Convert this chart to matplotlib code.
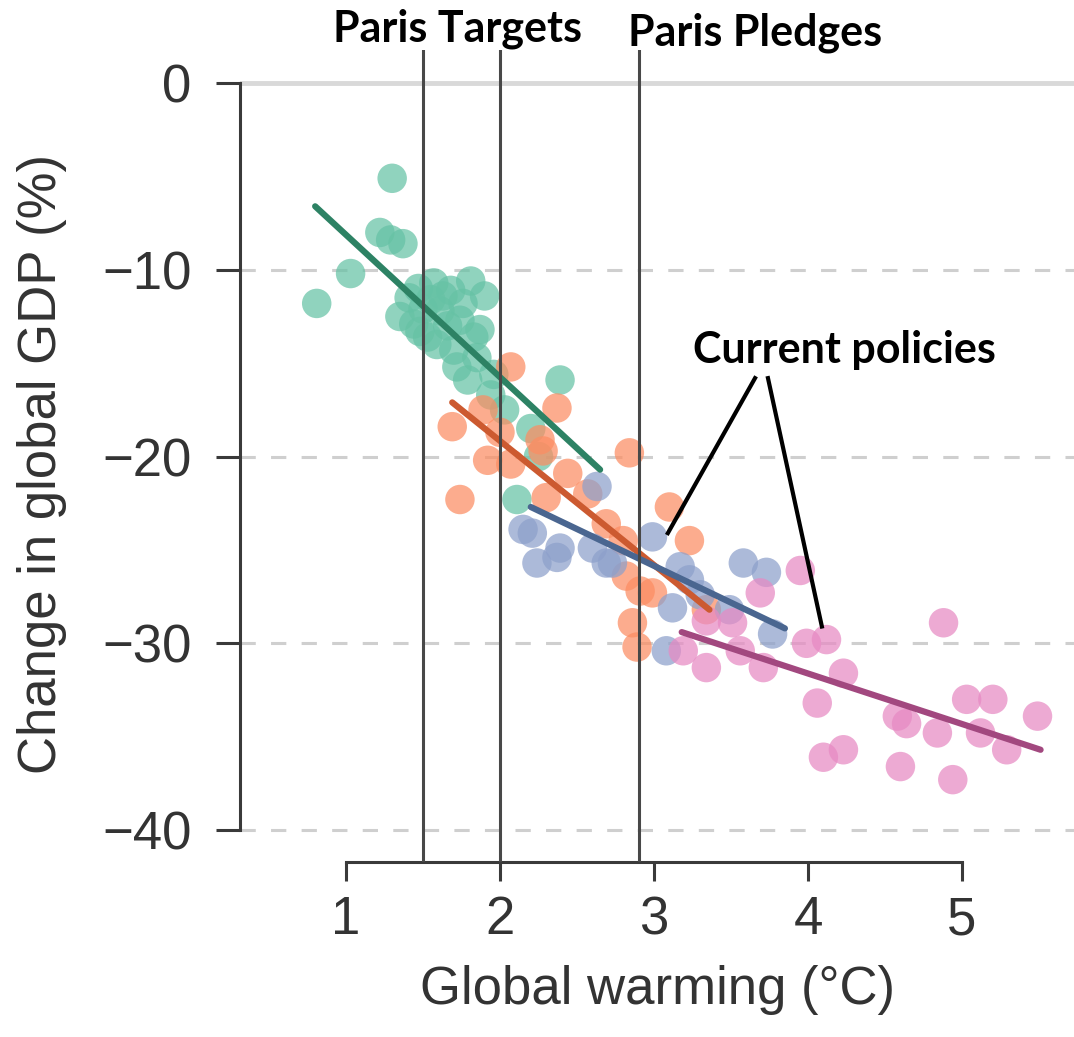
import matplotlib
matplotlib.use("Agg")
import matplotlib.pyplot as plt

# Scatter samples: global warming (°C) vs change in global GDP (%)
green_x = [0.81, 1.03, 1.22, 1.29, 1.30, 1.37, 1.35, 1.44, 1.53, 1.57, 1.61, 1.68,
           1.70, 1.74, 1.79, 1.81, 1.83, 1.87, 1.90, 1.94, 2.03, 2.11, 2.20, 2.39,
           1.41, 1.47, 1.50, 1.55, 1.63, 1.66, 1.76, 1.48, 1.59, 1.85, 1.72, 1.96, 2.25]
green_y = [-11.8, -10.2, -8.0, -8.4, -5.1, -8.6, -12.5, -12.9, -13.6, -10.7, -12.2, -11.1,
           -14.3, -12.7, -15.9, -10.6, -13.6, -13.2, -11.4, -16.7, -17.5, -22.3, -18.5, -15.9,
           -11.5, -11.0, -12.1, -11.6, -11.4, -13.0, -11.8, -13.3, -14.0, -14.7, -15.2, -15.6, -20.0]

orange_x = [1.69, 1.74, 1.89, 1.92, 2.00, 2.07, 2.07, 2.26, 2.28, 2.30, 2.37, 2.44,
            2.57, 2.69, 2.80, 2.82, 2.84, 2.86, 2.89, 2.91, 2.99, 3.10, 3.23, 3.34]
orange_y = [-18.4, -22.3, -17.5, -20.2, -18.7, -15.2, -20.4, -19.1, -19.7, -22.2, -17.4, -20.9,
            -22.0, -23.6, -24.5, -26.4, -19.8, -28.9, -30.2, -27.2, -27.3, -22.7, -24.5, -28.2]

blue_x = [2.15, 2.21, 2.24, 2.37, 2.39, 2.60, 2.63, 2.69, 2.73, 2.99, 3.08, 3.12,
          3.17, 3.23, 3.30, 3.49, 3.58, 3.73, 3.77]
blue_y = [-23.9, -24.1, -25.7, -25.4, -24.9, -24.9, -21.6, -25.7, -25.7, -24.3, -30.4, -28.1,
          -25.9, -26.6, -27.4, -28.2, -25.7, -26.2, -29.5]

pink_x = [3.19, 3.34, 3.34, 3.51, 3.56, 3.69, 3.71, 3.95, 3.99, 4.06, 4.12, 4.10, 4.23,
          4.23, 4.58, 4.60, 4.64, 4.84, 4.88, 4.94, 5.03, 5.12, 5.20, 5.29, 5.49]
pink_y = [-30.4, -28.8, -31.3, -28.9, -30.4, -27.3, -31.3, -26.1, -30.0, -33.2, -29.8, -36.1, -31.6,
          -35.7, -33.9, -36.6, -34.3, -34.8, -28.9, -37.3, -33.0, -34.8, -33.0, -35.7, -33.9]

# Fitted trend lines (end points)
green_fit_x, green_fit_y = [0.80, 2.65], [-6.6, -20.7]
orange_fit_x, orange_fit_y = [1.69, 3.36], [-17.1, -28.2]
blue_fit_x, blue_fit_y = [2.20, 3.85], [-22.7, -29.2]
pink_fit_x, pink_fit_y = [3.18, 5.51], [-29.4, -35.7]

# Reference warming levels
paris_targets = [1.5, 2.0]
paris_pledges = [2.9]

x_ticks = [1, 2, 3, 4, 5]
y_ticks = [0, -10, -20, -30, -40]

point_colors = ["#66c2a5", "#fc8d62", "#8da0cb", "#e78ac3"]
line_colors = ["#2d8264", "#cc5a30", "#4a6690", "#a2487f"]

plt.rcParams["font.family"] = ["Liberation Sans", "DejaVu Sans"]

fig = plt.figure(figsize=(10.74, 10.37), dpi=100)
ax = fig.add_axes([240 / 1074, 175 / 1037, 834 / 1074, 812 / 1037])
ax.set_xlim(0.312, 5.727)
ax.set_ylim(-41.71, 1.77)

# horizontal guides
ax.axhline(0, color="#d9d9d9", lw=3.5, zorder=0)
for v in y_ticks[1:]:
    ax.axhline(v, color="#cfcfcf", lw=2.2, dashes=(5, 5), zorder=0)

# scatter clouds
for xs, ys, c in zip([green_x, orange_x, blue_x, pink_x],
                     [green_y, orange_y, blue_y, pink_y], point_colors):
    ax.scatter(xs, ys, s=450, color=c, alpha=0.72, edgecolors="none", zorder=2)

# trend lines
for xs, ys, c in zip([green_fit_x, orange_fit_x, blue_fit_x, pink_fit_x],
                     [green_fit_y, orange_fit_y, blue_fit_y, pink_fit_y], line_colors):
    ax.plot(xs, ys, color=c, lw=4.5, solid_capstyle="round", zorder=3)

# vertical markers
for v in paris_targets + paris_pledges:
    ax.axvline(v, color="#484848", lw=2.2, zorder=4)

# spines
for side in ["top", "right"]:
    ax.spines[side].set_visible(False)
ax.spines["left"].set_bounds(-40, 0)
ax.spines["bottom"].set_bounds(1, 5)
for side in ["left", "bottom"]:
    ax.spines[side].set_linewidth(2.2)
    ax.spines[side].set_color("#3a3a3a")

ax.set_xticks(x_ticks)
ax.set_yticks(y_ticks)
ax.set_yticklabels(["0", "\u221210", "\u221220", "\u221230", "\u221240"])
ax.tick_params(axis="y", length=17, width=2.2, color="#3a3a3a", pad=18,
               labelsize=38, labelcolor="#333333")
ax.tick_params(axis="x", length=14, width=2.2, color="#3a3a3a", pad=10,
               labelsize=38, labelcolor="#333333")

ax.set_xlabel("Global warming (\u00b0C)", fontsize=38, color="#333333", labelpad=14)
ax.set_ylabel("Change in global GDP (%)", fontsize=38, color="#333333")
ax.yaxis.set_label_coords(-0.238, 0.49)
ax.yaxis.label.set_va("center")

# annotations
ann_font = dict(family=["Lato", "DejaVu Sans"], fontweight="bold", fontsize=31, color="black")
ax.text(1.727, 2.9, "Paris Targets", ha="center", va="center", clip_on=False, **ann_font)
ax.text(3.656, 2.7, "Paris Pledges", ha="center", va="center", clip_on=False, **ann_font)
ax.text(4.234, -14.3, "Current policies", ha="center", va="center", **ann_font)
ax.plot([3.656, 3.09], [-15.8, -24.1], color="black", lw=3, zorder=5)
ax.plot([3.74, 4.09], [-15.8, -29.1], color="black", lw=3, zorder=5)

fig.savefig("out.png", dpi=100)
